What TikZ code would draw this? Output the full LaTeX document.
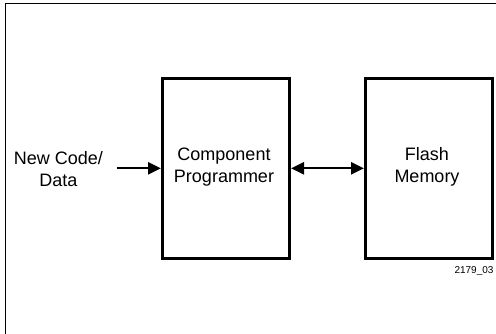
\documentclass[tikz,border=0pt]{standalone}
\usepackage{fontspec}
\setmainfont{Liberation Sans}
\usetikzlibrary{arrows.meta}
\begin{document}
\begin{tikzpicture}[x=1pt,y=-1pt,
  block/.style={draw, line width=3pt, minimum width=127pt, minimum height=180pt,
    inner sep=0pt},
  lbl/.style={align=center, font=\fontsize{18}{22}\selectfont},
  flow/.style={line width=2.3pt, -{Triangle[length=13pt,width=12pt]}},
  biflow/.style={line width=2.3pt, {Triangle[length=13pt,width=12pt]}-{Triangle[length=13pt,width=12pt]}}]
  \useasboundingbox (0,0) rectangle (496,333);
  % outer frame, running off the right and bottom edges
  \draw[line width=1.8pt] (5.5,340) -- (5.5,3.5) -- (505,3.5);
  % blocks
  \node[block] (prog) at (226,168.5) {};
  \node[block] (flash) at (429,168.5) {};
  \node[lbl] (progtxt) at (224,167) {Component\\Programmer};
  \node[lbl] (flashtxt) at (427,167) {Flash\\Memory};
  % input label and connectors
  \node[lbl] (src) at (58.5,169) {New Code/\\Data};
  \coordinate (srcend) at (117,168.3);
  \draw[flow] (srcend) -- (prog.west |- srcend);
  \draw[biflow] (prog.east |- srcend) -- (flash.west |- srcend);
  \node[font=\fontsize{10}{12}\selectfont, anchor=north east] (tag) at (497,263) {2179\_03};
\end{tikzpicture}
\end{document}
